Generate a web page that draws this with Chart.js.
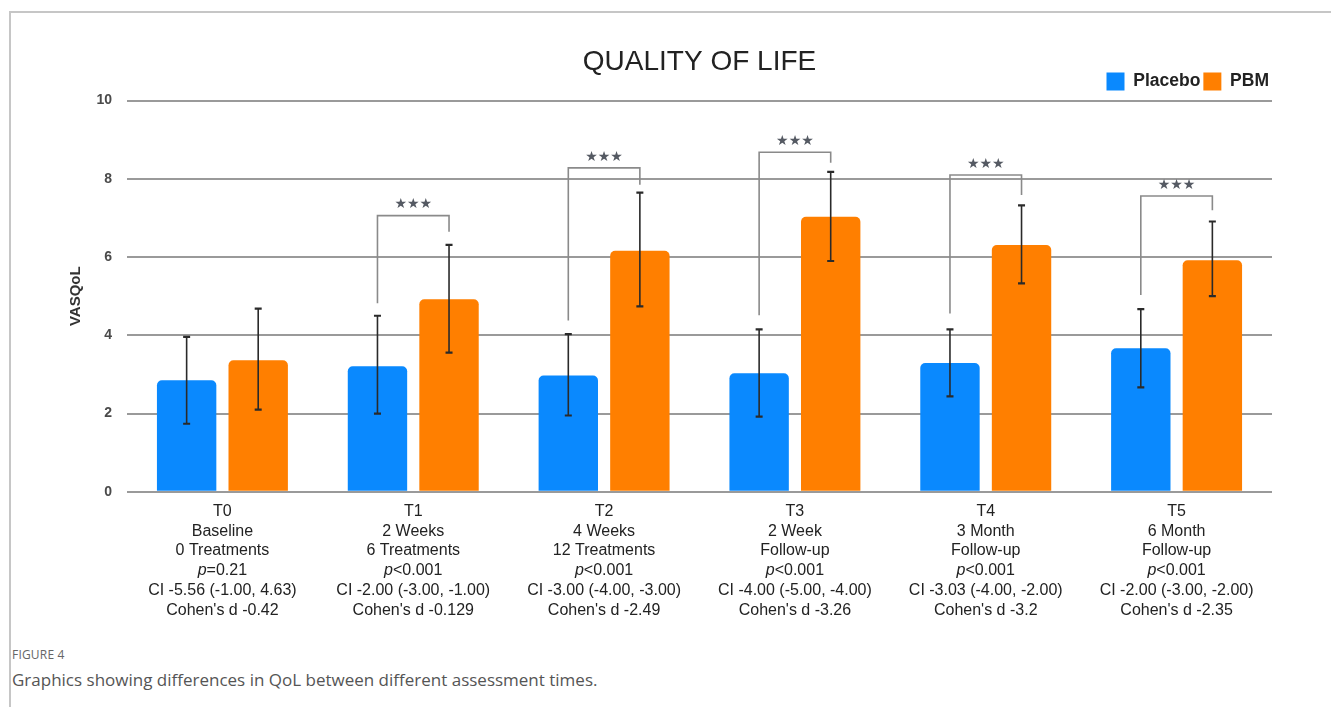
<!DOCTYPE html>
<html>
<head>
<meta charset="utf-8">
<script src="https://cdn.jsdelivr.net/npm/chart.js@4.4.1/dist/chart.umd.min.js"></script>
<style>
  body { margin: 0; background: #fff; }
  #wrap { position: relative; width: 1331px; height: 707px; overflow: hidden; }
  #frame { position: absolute; left: 9px; top: 11px; right: -5px; bottom: -5px;
           border-top: 2px solid #c6c6c6; border-left: 2px solid #c6c6c6; }
  #chart { position: absolute; left: 0; top: 0; }
  #figno { position: absolute; left: 12px; top: 646px; font: 12px "Open Sans", sans-serif;
           color: #666; letter-spacing: 0.2px; }
  #caption { position: absolute; left: 12px; top: 668px; font: 17px "Open Sans", sans-serif; color: #555; }
</style>
</head>
<body>
<div id="wrap">
  <div id="frame"></div>
  <canvas id="chart" width="1331" height="630"></canvas>
  <div id="figno">FIGURE 4</div>
  <div id="caption">Graphics showing differences in QoL between different assessment times.</div>
</div>
<script>
// category labels (one array of lines per time point)
const categories = [
    ["T0", "Baseline", "0 Treatments", "p=0.21", "CI -5.56 (-1.00, 4.63)", "Cohen's d -0.42"],
    ["T1", "2 Weeks", "6 Treatments", "p<0.001", "CI -2.00 (-3.00, -1.00)", "Cohen's d -0.129"],
    ["T2", "4 Weeks", "12 Treatments", "p<0.001", "CI -3.00 (-4.00, -3.00)", "Cohen's d -2.49"],
    ["T3", "2 Week", "Follow-up", "p<0.001", "CI -4.00 (-5.00, -4.00)", "Cohen's d -3.26"],
    ["T4", "3 Month", "Follow-up", "p<0.001", "CI -3.03 (-4.00, -2.00)", "Cohen's d -3.2"],
    ["T5", "6 Month", "Follow-up", "p<0.001", "CI -2.00 (-3.00, -2.00)", "Cohen's d -2.35"]
];

// bar values and error bar ends
const placebo = [2.85, 3.21, 2.97, 3.03, 3.29, 3.67];
const placeboLow = [1.74, 2.00, 1.95, 1.92, 2.44, 2.67];
const placeboHigh = [3.96, 4.50, 4.03, 4.15, 4.15, 4.67];
const pbm = [3.36, 4.92, 6.16, 7.03, 6.31, 5.92];
const pbmLow = [2.10, 3.56, 4.74, 5.90, 5.33, 5.00];
const pbmHigh = [4.68, 6.31, 7.65, 8.18, 7.32, 6.91];

// significance brackets: top of bracket, end of left leg, end of right leg
const bracketTop = [null, 7.06, 8.28, 8.68, 8.10, 7.56];
const bracketLeftEnd = [null, 4.82, 4.38, 4.51, 4.56, 5.03];
const bracketRightEnd = [null, 6.65, 7.85, 8.41, 7.59, 7.20];
const bracketText = [null, "★★★", "★★★", "★★★", "★★★", "★★★"];

const yTicks = [0, 2, 4, 6, 8, 10];

const labelFont = '16px "Liberation Sans", Arial, sans-serif';
const labelLineHeight = 19.7;

// error bars + brackets drawn with the chart's own scales
const errorBars = {
    id: 'errorBars',
    afterDatasetsDraw(chart) {
        const ctx = chart.ctx;
        const yScale = chart.scales.y;
        const sets = [[0, placeboLow, placeboHigh], [1, pbmLow, pbmHigh]];
        ctx.save();
        ctx.strokeStyle = '#2a2a2a';
        sets.forEach(([di, lo, hi]) => {
            chart.getDatasetMeta(di).data.forEach((bar, i) => {
                const x = bar.x;
                const y1 = yScale.getPixelForValue(lo[i]);
                const y2 = yScale.getPixelForValue(hi[i]);
                ctx.lineWidth = 1.6;
                ctx.beginPath();
                ctx.moveTo(x, y1);
                ctx.lineTo(x, y2);
                ctx.stroke();
                ctx.lineWidth = 2.2;
                ctx.beginPath();
                ctx.moveTo(x - 3.5, y1); ctx.lineTo(x + 3.5, y1);
                ctx.moveTo(x - 3.5, y2); ctx.lineTo(x + 3.5, y2);
                ctx.stroke();
            });
        });

        const left = chart.getDatasetMeta(0).data;
        const right = chart.getDatasetMeta(1).data;
        ctx.strokeStyle = '#8a8a8a';
        ctx.lineWidth = 1.6;
        ctx.fillStyle = '#555a63';
        ctx.font = '14px "DejaVu Sans", sans-serif';
        ctx.textAlign = 'center';
        ctx.textBaseline = 'middle';
        bracketTop.forEach((top, i) => {
            if (top === null) return;
            const xl = left[i].x, xr = right[i].x;
            const yt = yScale.getPixelForValue(top);
            ctx.beginPath();
            ctx.moveTo(xl, yScale.getPixelForValue(bracketLeftEnd[i]));
            ctx.lineTo(xl, yt);
            ctx.lineTo(xr, yt);
            ctx.lineTo(xr, yScale.getPixelForValue(bracketRightEnd[i]));
            ctx.stroke();
            ctx.fillText(bracketText[i], (xl + xr) / 2, yt - 11);
        });
        ctx.restore();
    }
};

// x labels drawn line by line so the "p" can be italic
const xLabels = {
    id: 'xLabels',
    afterDraw(chart) {
        const ctx = chart.ctx;
        const xScale = chart.scales.x;
        ctx.save();
        ctx.fillStyle = '#222';
        ctx.textBaseline = 'middle';
        categories.forEach((lines, i) => {
            const x = xScale.getPixelForTick(i);
            lines.forEach((line, k) => {
                const y = xScale.top + 8 + labelLineHeight / 2 + k * labelLineHeight + 2;
                if (line.startsWith('p')) {
                    const rest = line.slice(1);
                    ctx.font = 'italic ' + labelFont;
                    const wp = ctx.measureText('p').width;
                    ctx.font = labelFont;
                    const wr = ctx.measureText(rest).width;
                    const x0 = x - (wp + wr) / 2;
                    ctx.textAlign = 'left';
                    ctx.font = 'italic ' + labelFont;
                    ctx.fillText('p', x0, y);
                    ctx.font = labelFont;
                    ctx.fillText(rest, x0 + wp, y);
                } else {
                    ctx.font = labelFont;
                    ctx.textAlign = 'center';
                    ctx.fillText(line, x, y);
                }
            });
        });
        ctx.restore();
    }
};

const ctx = document.getElementById('chart').getContext('2d');
new Chart(ctx, {
    type: 'bar',
    data: {
        labels: categories,
        datasets: [
            {
                label: 'Placebo',
                data: placebo,
                backgroundColor: '#0a89fe',
                borderWidth: 0,
                borderRadius: {topLeft: 5, topRight: 5},
                borderSkipped: 'start',
                categoryPercentage: 0.75,
                barPercentage: 0.83
            },
            {
                label: 'PBM',
                data: pbm,
                backgroundColor: '#ff7f00',
                borderWidth: 0,
                borderRadius: {topLeft: 5, topRight: 5},
                borderSkipped: 'start',
                categoryPercentage: 0.75,
                barPercentage: 0.83
            }
        ]
    },
    options: {
        responsive: false,
        animation: false,
        devicePixelRatio: 1,
        layout: {
            padding: {top: 36, left: 60, right: 59, bottom: 4}
        },
        plugins: {
            title: {
                display: true,
                fullSize: false,
                text: 'QUALITY OF LIFE',
                color: '#222',
                font: {family: '"Liberation Sans", Arial, sans-serif', size: 28, weight: 'normal', lineHeight: 1.2},
                padding: {top: 9, bottom: -9}
            },
            legend: {
                display: true,
                position: 'top',
                align: 'end',
                labels: {
                    boxWidth: 18,
                    boxHeight: 18,
                    padding: 3,
                    color: '#222',
                    font: {family: '"Liberation Sans", Arial, sans-serif', size: 17.5, weight: 'bold'}
                }
            },
            tooltip: {enabled: false}
        },
        scales: {
            x: {
                grid: {display: false, drawTicks: false},
                border: {display: false},
                ticks: {
                    color: 'rgba(0,0,0,0)',
                    padding: 8,
                    maxRotation: 0,
                    autoSkip: false,
                    font: {family: '"Liberation Sans", Arial, sans-serif', size: 16, lineHeight: labelLineHeight / 16}
                }
            },
            y: {
                min: 0,
                max: 10,
                afterBuildTicks(scale) {
                    scale.ticks = yTicks.map(v => ({value: v}));
                },
                afterFit(scale) {
                    scale.width = 67;
                },
                grid: {color: '#9a9a9a', lineWidth: 2, drawTicks: false},
                border: {display: false},
                ticks: {
                    padding: 15,
                    color: '#4a4a4a',
                    font: {family: '"Liberation Sans", Arial, sans-serif', size: 14, weight: 'bold'}
                },
                title: {
                    display: true,
                    text: 'VASQoL',
                    color: '#333',
                    padding: {top: 7, bottom: 0},
                    font: {family: '"Liberation Sans", Arial, sans-serif', size: 15, weight: 'bold', lineHeight: 1.2}
                }
            }
        }
    },
    plugins: [errorBars, xLabels]
});
</script>
</body>
</html>
